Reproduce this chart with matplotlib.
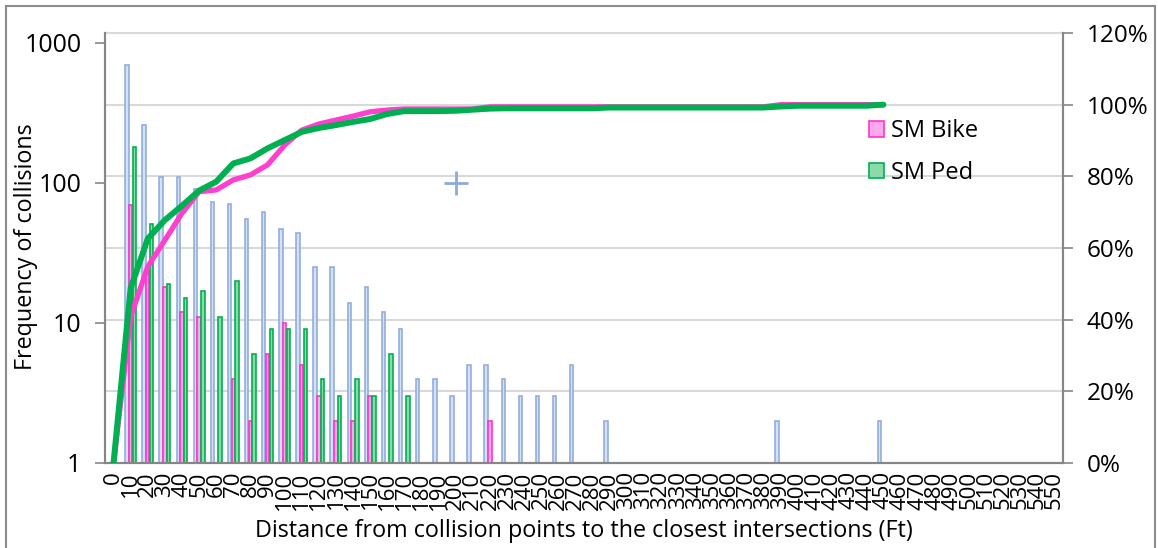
import matplotlib
matplotlib.use('agg')
import matplotlib.pyplot as plt
from matplotlib.patches import Rectangle
from matplotlib.ticker import FuncFormatter, FixedLocator, NullLocator
import numpy as np

plt.rcParams['font.family'] = ['Open Sans', 'DejaVu Sans']

# distance categories (ft)
dist = list(range(0, 560, 10))

# total collisions (light blue bars); 0 = no visible bar
total = [0, 700, 260, 110, 110, 91, 73, 71, 55, 62,
         47, 44, 25, 25, 14, 18, 12, 9, 4, 4,
         3, 5, 5, 4, 3, 3, 3, 5, 0, 2,
         0, 0, 0, 0, 0, 0, 0, 0, 0, 2,
         0, 0, 0, 0, 0, 2, 0, 0, 0, 0,
         0, 0, 0, 0, 0, 0]
# SM Bike
bike = [0, 70, 25, 18, 12, 11, 0, 4, 2, 6,
        10, 5, 3, 2, 2, 3, 0, 0, 0, 0,
        0, 0, 2] + [0] * 33
# SM Ped
ped = [0, 180, 51, 19, 15, 17, 11, 20, 6, 9,
       9, 9, 4, 3, 4, 3, 6, 3] + [0] * 38

# cumulative percentages (0..450 ft)
bike_cum = [0, 40.8, 54.8, 62.2, 69.7, 75.7, 76.2, 79.0, 80.4, 83.2,
            88.7, 92.9, 94.6, 95.7, 96.8, 98.0, 98.5, 98.8, 98.8, 98.8,
            98.8, 98.8, 99.4, 99.4, 99.4, 99.4, 99.4, 99.4, 99.4, 99.4,
            99.4, 99.4, 99.4, 99.4, 99.4, 99.4, 99.4, 99.4, 99.4, 100,
            100, 100, 100, 100, 100, 100]
ped_cum = [0, 48.8, 62.6, 67.8, 71.8, 76.0, 78.5, 83.6, 85.0, 87.8,
           90.1, 92.4, 93.5, 94.3, 95.2, 96.0, 97.4, 98.2, 98.2, 98.2,
           98.3, 98.6, 98.9, 99.0, 99.0, 99.0, 99.0, 99.0, 99.0, 99.2,
           99.2, 99.2, 99.2, 99.2, 99.2, 99.2, 99.2, 99.2, 99.2, 99.5,
           99.7, 99.7, 99.7, 99.7, 99.7, 100]

fig = plt.figure(figsize=[11.58, 5.48], dpi=100)
ax = fig.add_axes([105/1158, 1-463/548, 958/1158, 430/548])
ax2 = ax.twinx()

x = np.arange(len(dist))
w = 0.2
ax.bar(x - 0.22, total, w, color='#D4E0F3', edgecolor='#93AEDC', linewidth=1.2, zorder=2)
ax.bar(x, bike, w, color='#FFA8EC', edgecolor='#FF33CC', linewidth=1.2, zorder=3, label='SM Bike')
ax.bar(x + 0.22, ped, w, color='#8ADBA9', edgecolor='#00B050', linewidth=1.2, zorder=3, label='SM Ped')
ax.plot([20], [100], marker='+', markersize=17, mew=2, color='#8EA9DB', zorder=4)

ax.set_yscale('log')
ax.set_ylim(1, 10**(3 + 10/140))
ax.set_xlim(-0.5, len(dist) - 0.5)
ax.yaxis.set_major_locator(FixedLocator([1, 10, 100, 1000]))
ax.yaxis.set_minor_locator(NullLocator())
ax.yaxis.set_major_formatter(FuncFormatter(lambda v, p: '%d' % v))
ax.set_xticks(x)
ax.set_xticklabels([str(d) for d in dist], rotation=90, fontsize=16)

# gridlines from the percent axis, drawn behind the bars
pct_ticks = [0, 20, 40, 60, 80, 100, 120]
for t in pct_ticks[1:]:
    ax.plot([0, 1], [t/120, t/120], transform=ax.transAxes, color='#D9D9D9',
            lw=1.5, zorder=0, clip_on=False)

xl = x[:len(bike_cum)]
ax2.plot(xl, bike_cum, color='#FF3FCF', lw=3.8, solid_capstyle='round', zorder=5)
ax2.plot(xl, ped_cum, color='#00B050', lw=4.3, solid_capstyle='round', zorder=6)
ax2.set_ylim(0, 120)
ax2.set_yticks(pct_ticks)
ax2.yaxis.set_major_formatter(FuncFormatter(lambda v, p: '%d%%' % v))

for a in (ax, ax2):
    a.spines['top'].set_visible(False)
    for s in ('left', 'right', 'bottom'):
        a.spines[s].set_color('#868686')
        a.spines[s].set_linewidth(1.5)
    a.tick_params(axis='y', colors='#868686', labelcolor='black', labelsize=18,
                  length=7, width=1.2, pad=10)
ax2.tick_params(axis='y', labelsize=17.5)
ax.tick_params(axis='x', length=0, pad=6)

fig.text(26/1158, 1-247/548, 'Frequency of collisions', rotation=90,
         ha='center', va='center', fontsize=16.8)
fig.text(584/1158, 1-531/548,
         'Distance from collision points to the closest intersections (Ft)',
         ha='center', va='center', fontsize=16.8)

ax.legend(loc='upper left', bbox_to_anchor=(869/1158, 1-119/548),
          bbox_transform=fig.transFigure, frameon=False, fontsize=17,
          labelspacing=0.75, handlelength=0.65, handleheight=0.65,
          handletextpad=0.3, borderpad=0, borderaxespad=0)

# outer chart border
fig.patches.append(Rectangle((6/1158, -0.05), 1149/1158, 1 - 6/548 + 0.05,
                             transform=fig.transFigure, fill=False,
                             edgecolor='#8C8C8C', lw=1.5))

fig.savefig('out.png', dpi=100)
